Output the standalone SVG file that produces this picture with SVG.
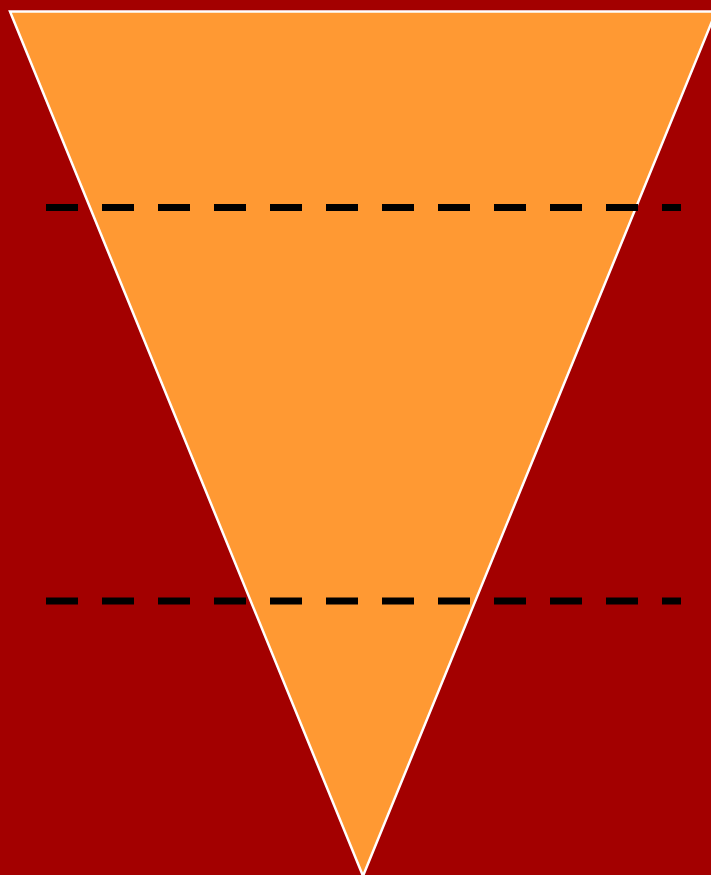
<svg xmlns="http://www.w3.org/2000/svg" width="711" height="875" viewBox="0 0 711 875">
<style>
.dash{stroke:#000;stroke-width:7;stroke-dasharray:32 24;fill:none}
</style>
<rect x="0" y="0" width="711" height="875" fill="#A30000"/>
<g id="funnel">
<polygon points="10,11.5 716,11.5 363,876" fill="#FF9933" stroke="#FFFFFF" stroke-width="2.5" stroke-linejoin="miter"/>
</g>
<g id="connectors">
<line class="dash" x1="46" y1="207.5" x2="681" y2="207.5"/>
<line class="dash" x1="46" y1="601" x2="681" y2="601"/>
</g>
</svg>
